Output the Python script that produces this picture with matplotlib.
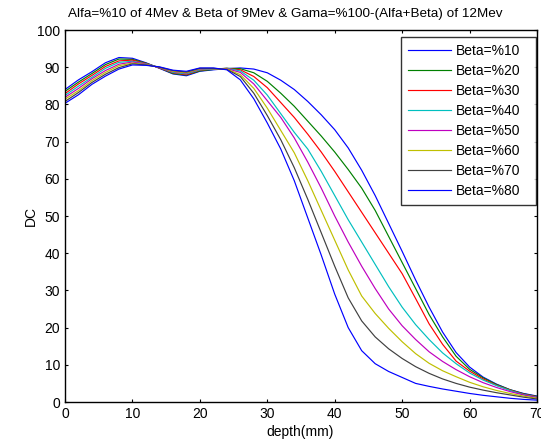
import matplotlib
matplotlib.use("Agg")
import matplotlib.pyplot as plt

plt.rcParams['font.family'] = ['Liberation Sans', 'DejaVu Sans']

depth = [0, 2, 4, 6, 8, 10, 12, 14, 16, 18, 20, 22, 24, 26, 28, 30, 32, 34,
         36, 38, 40, 42, 44, 46, 48, 50, 52, 54, 56, 58, 60, 62, 64, 66, 68, 70]

beta10 = [84.0, 86.6, 88.8, 91.2, 92.6, 92.4, 91.2, 89.7, 88.2, 87.7, 88.9, 89.3, 89.6,
          89.8, 89.5, 88.5, 86.5, 84.0, 80.8, 77.2, 73.2, 68.3, 62.3, 55.5, 48.0, 40.5,
          32.8, 25.5, 18.8, 13.3, 9.4, 6.7, 4.8, 3.3, 2.3, 1.6]
beta20 = [83.5, 86.0, 88.3, 90.7, 92.2, 92.1, 91.1, 89.8, 88.3, 87.9, 89.0, 89.4, 89.7,
          89.6, 88.5, 86.2, 83.0, 79.5, 75.5, 71.5, 67.2, 62.5, 57.5, 51.5, 44.5, 37.5,
          30.5, 23.5, 17.5, 12.3, 8.8, 6.5, 4.7, 3.3, 2.2, 1.5]
beta30 = [82.9, 85.5, 87.8, 90.2, 91.7, 91.9, 91.0, 89.8, 88.5, 88.0, 89.2, 89.5, 89.7,
          89.3, 87.5, 84.5, 80.5, 76.5, 72.0, 67.2, 62.0, 56.5, 51.0, 45.5, 40.0, 34.5,
          27.8, 21.0, 15.5, 11.0, 8.3, 6.2, 4.5, 3.2, 2.1, 1.4]
beta40 = [82.4, 84.9, 87.3, 89.7, 91.3, 91.6, 90.9, 89.9, 88.6, 88.2, 89.3, 89.5, 89.7,
          89.0, 86.5, 82.5, 77.5, 72.5, 68.0, 62.0, 55.5, 49.0, 43.0, 37.0, 31.0, 25.5,
          20.8, 16.8, 13.2, 10.3, 7.8, 5.9, 4.4, 3.1, 2.0, 1.3]
beta50 = [81.9, 84.3, 86.9, 89.1, 90.8, 91.4, 90.8, 89.9, 88.8, 88.4, 89.5, 89.6, 89.6,
          88.6, 85.5, 81.0, 76.5, 71.0, 64.5, 57.5, 50.0, 43.0, 36.5, 30.5, 25.0, 20.5,
          16.8, 13.5, 10.9, 8.7, 6.8, 5.2, 3.9, 2.8, 1.9, 1.2]
beta60 = [81.4, 83.7, 86.4, 88.6, 90.4, 91.1, 90.7, 90.0, 88.9, 88.5, 89.6, 89.6, 89.5,
          88.0, 84.3, 79.0, 73.0, 67.0, 59.5, 51.5, 43.5, 35.5, 28.5, 23.8, 19.8, 16.2,
          13.0, 10.4, 8.4, 6.8, 5.3, 4.1, 3.1, 2.3, 1.6, 1.0]
beta70 = [80.8, 83.2, 85.9, 88.1, 89.9, 90.9, 90.6, 90.0, 89.1, 88.7, 89.7, 89.7, 89.4,
          87.5, 83.0, 77.0, 70.5, 63.0, 54.5, 45.5, 36.5, 28.0, 21.8, 17.5, 14.3, 11.7,
          9.5, 7.7, 6.2, 5.0, 4.0, 3.2, 2.5, 1.9, 1.3, 0.8]
beta80 = [80.3, 82.6, 85.4, 87.6, 89.5, 90.6, 90.5, 90.1, 89.2, 88.9, 89.8, 89.8, 89.3,
          86.6, 81.5, 75.0, 68.0, 59.5, 49.5, 39.5, 29.0, 20.0, 13.8, 10.3, 8.2, 6.6,
          5.0, 4.2, 3.5, 2.9, 2.3, 1.8, 1.4, 1.0, 0.7, 0.5]

series = [beta10, beta20, beta30, beta40, beta50, beta60, beta70, beta80]
labels = ["Beta=%10", "Beta=%20", "Beta=%30", "Beta=%40",
          "Beta=%50", "Beta=%60", "Beta=%70", "Beta=%80"]
colors = ["#0000ff", "#008000", "#ff0000", "#00bfbf",
          "#bf00bf", "#bfbf00", "#404040", "#0000ff"]

xticks = [0, 10, 20, 30, 40, 50, 60, 70]
yticks = [0, 10, 20, 30, 40, 50, 60, 70, 80, 90, 100]

fig = plt.figure(figsize=(5.41, 4.45), dpi=100)
ax = fig.add_axes([65/541, 43/445, 472/541, 372/445])

for y, lab, c in zip(series, labels, colors):
    ax.plot(depth, y, color=c, lw=0.85, label=lab)

ax.set_xlim(0, 70)
ax.set_ylim(0, 100)
ax.set_xticks(xticks)
ax.set_yticks(yticks)
ax.tick_params(direction='in', length=2.5, width=0.8, top=True, right=True,
               labelsize=10, pad=3.5)
for s in ax.spines.values():
    s.set_linewidth(1.0)

ax.set_xlabel("depth(mm)", fontsize=10)
ax.xaxis.set_label_coords(0.498, (402 - 425) / 372)
ax.set_ylabel("DC", fontsize=10)
ax.yaxis.set_label_coords((38 - 65) / 472, 0.5)
fig.text(285.5/541, 1 - 14.5/445, "Alfa=%10 of 4Mev & Beta of 9Mev & Gama=%100-(Alfa+Beta) of 12Mev",
         ha='center', va='center', fontsize=9.7)

leg = ax.legend(loc='upper left',
                bbox_to_anchor=(401/541, 1 - 204/445, 135/541, 167/445),
                bbox_transform=fig.transFigure, mode='expand', fontsize=10,
                frameon=True, fancybox=False, shadow=False, borderaxespad=0,
                handlelength=3.1, handletextpad=0.36, labelspacing=0.43,
                borderpad=0.5)
leg.get_frame().set_edgecolor('black')
leg.get_frame().set_linewidth(1.0)

fig.savefig("out.png", dpi=100)
